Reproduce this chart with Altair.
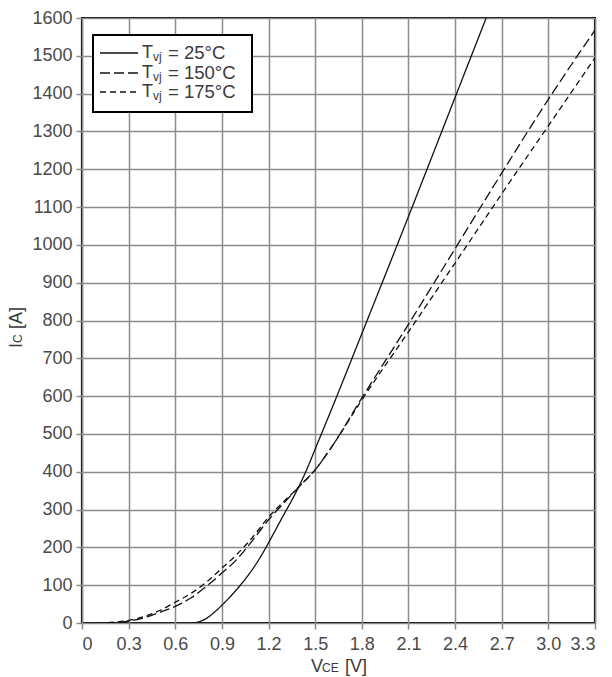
import altair as alt
import pandas as pd

# Collector current vs. collector-emitter voltage, three junction temperatures
v_25 = [0.72, 0.75, 0.80, 0.85, 0.90, 0.95, 1.00, 1.05, 1.10, 1.15, 1.20, 1.25,
        1.30, 1.35, 1.40, 1.45, 1.50, 1.55, 1.60, 1.80, 2.10, 2.40, 2.60]
i_25 = [0, 3, 12, 28, 47, 68, 91, 116, 144, 176, 212, 250,
        288, 325, 365, 410, 460, 510, 560, 765, 1075, 1390, 1600]

v_150 = [0.15, 0.20, 0.30, 0.40, 0.50, 0.60, 0.70, 0.80, 0.90, 1.00, 1.10, 1.20,
         1.30, 1.40, 1.50, 1.60, 1.80, 2.10, 2.40, 2.70, 3.00, 3.30]
i_150 = [0, 1, 5, 14, 28, 44, 66, 97, 132, 170, 220, 273,
         318, 362, 405, 462, 595, 790, 990, 1190, 1385, 1568]

v_175 = [0.10, 0.20, 0.30, 0.40, 0.50, 0.60, 0.70, 0.80, 0.90, 1.00, 1.10, 1.20,
         1.30, 1.40, 1.50, 1.60, 1.80, 2.10, 2.40, 2.70, 3.00, 3.30]
i_175 = [0, 2, 7, 17, 33, 55, 78, 108, 145, 183, 228, 280,
         322, 362, 405, 462, 590, 770, 952, 1135, 1315, 1495]

series_names = ["25", "150", "175"]
x_ticks = [0, 0.3, 0.6, 0.9, 1.2, 1.5, 1.8, 2.1, 2.4, 2.7, 3.0, 3.3]
y_ticks = list(range(0, 1700, 100))

frames = []
for name, vs, cs in zip(series_names, [v_25, v_150, v_175], [i_25, i_150, i_175]):
    frames.append(pd.DataFrame({"V": vs, "I": cs, "T": name}))
df = pd.concat(frames, ignore_index=True)

FONT = "Liberation Sans"
TXT = "#3a3a3a"
W, H = 513, 605

x_scale = alt.Scale(domain=[0, 3.3], nice=False, zero=False)
y_scale = alt.Scale(domain=[0, 1600], nice=False)

curves = alt.Chart(df).mark_line(
    color="#111111", strokeWidth=1.3, interpolate="monotone", clip=True
).encode(
    x=alt.X("V:Q", scale=x_scale,
            axis=alt.Axis(values=x_ticks, title=None,
                          labelExpr="datum.value == 0 ? '0' : format(datum.value, '.1f')")),
    y=alt.Y("I:Q", scale=y_scale, axis=alt.Axis(values=y_ticks, title=None, format="d")),
    strokeDash=alt.StrokeDash(
        "T:N", legend=None,
        scale=alt.Scale(domain=series_names, range=[[1, 0], [10, 4], [6, 4]]),
    ),
    detail="T:N",
)

one = pd.DataFrame({"k": [0]})
base = alt.Chart(one)

# Legend box with line samples and labels
box = base.mark_rect(fill="white", stroke="black", strokeWidth=2).encode(
    x=alt.value(11), x2=alt.value(170), y=alt.value(17), y2=alt.value(94)
)
rows_y = [35, 55, 74]
dashes = [[1, 0], [10, 4], [6, 4]]
temps = ["25°C", "150°C", "175°C"]
legend_layers = [box]
for ry, dash, temp in zip(rows_y, dashes, temps):
    legend_layers.append(
        base.mark_rule(color="#111111", strokeWidth=1.3, strokeDash=dash).encode(
            x=alt.value(18), x2=alt.value(56), y=alt.value(ry)
        )
    )
    legend_layers.append(
        base.mark_text(font=FONT, fontSize=18, color=TXT, align="left", baseline="middle").encode(
            x=alt.value(60), y=alt.value(ry), text=alt.value("T")
        )
    )
    legend_layers.append(
        base.mark_text(font=FONT, fontSize=12, color=TXT, align="left", baseline="middle").encode(
            x=alt.value(71), y=alt.value(ry + 4), text=alt.value("vj")
        )
    )
    legend_layers.append(
        base.mark_text(font=FONT, fontSize=18.5, color=TXT, align="left", baseline="middle").encode(
            x=alt.value(86), y=alt.value(ry), text=alt.value("= " + temp)
        )
    )

# Axis titles with subscripts
x_title = [
    base.mark_text(font=FONT, fontSize=18, color=TXT, align="left", baseline="alphabetic").encode(
        x=alt.value(229), y=alt.value(654), text=alt.value("V")),
    base.mark_text(font=FONT, fontSize=12, color=TXT, align="left", baseline="alphabetic").encode(
        x=alt.value(240), y=alt.value(654), text=alt.value("CE")),
    base.mark_text(font=FONT, fontSize=18, color=TXT, align="left", baseline="alphabetic").encode(
        x=alt.value(263), y=alt.value(654), text=alt.value("[V]")),
]
y_title = [
    base.mark_text(font=FONT, fontSize=18, color=TXT, align="left", baseline="alphabetic", angle=270).encode(
        x=alt.value(-60), y=alt.value(330), text=alt.value("I")),
    base.mark_text(font=FONT, fontSize=12, color=TXT, align="left", baseline="alphabetic", angle=270).encode(
        x=alt.value(-60), y=alt.value(325), text=alt.value("C")),
    base.mark_text(font=FONT, fontSize=18, color=TXT, align="left", baseline="alphabetic", angle=270).encode(
        x=alt.value(-60), y=alt.value(311), text=alt.value("[A]")),
]

chart = alt.layer(curves, *legend_layers, *x_title, *y_title).properties(
    width=W, height=H,
    autosize=alt.AutoSizeParams(type="none"),
    padding={"left": 82, "top": 18, "right": 17, "bottom": 54},
).configure_view(
    stroke="black", strokeWidth=2.2
).configure_axis(
    domain=False,
    grid=True, gridColor="#8c8c8c", gridWidth=1.5,
    ticks=True, tickColor="#8c8c8c", tickWidth=1.5, tickSize=6,
    labelFont=FONT, labelFontSize=18, labelColor="#4a4a4a", labelPadding=4,
).configure_axisX(labelPadding=6)

chart.save("out.html", embed_options={"renderer": "svg", "actions": False})
